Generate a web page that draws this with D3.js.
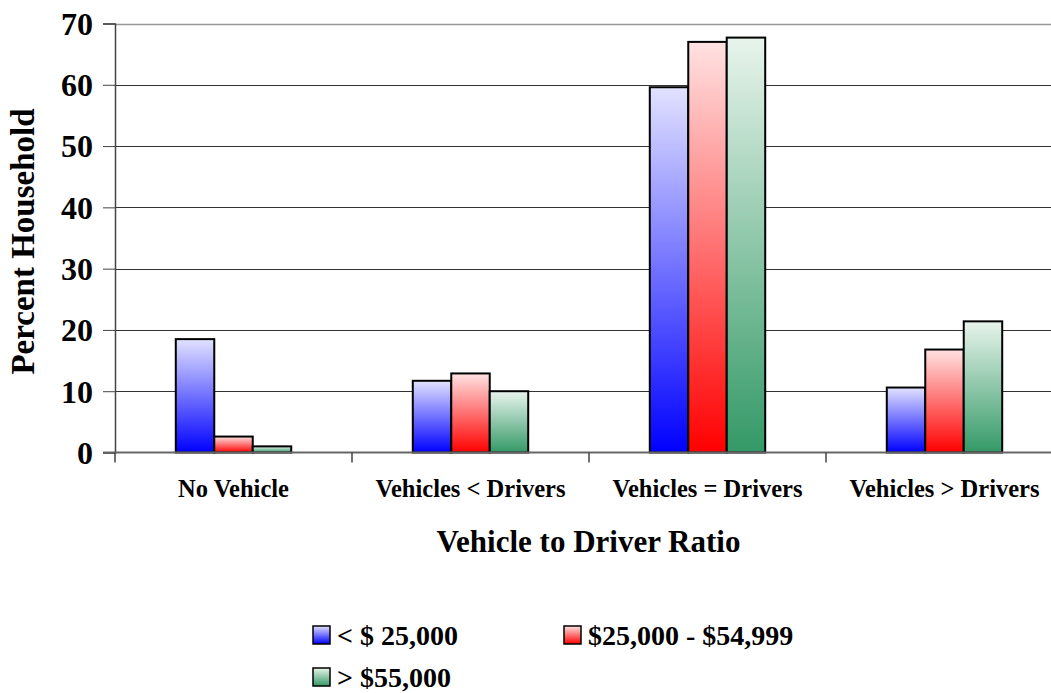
<!DOCTYPE html>
<html>
<head>
<meta charset="utf-8">
<script src="https://cdn.jsdelivr.net/npm/d3@7"></script>
<style>
  body { margin: 0; background: #fff; }
  text { font-family: "Liberation Serif", "Times New Roman", serif; font-weight: bold; }
</style>
</head>
<body>
<div id="chart"></div>
<script>
const categories = ['No Vehicle', 'Vehicles < Drivers', 'Vehicles = Drivers', 'Vehicles > Drivers'];
const seriesNames = ['< $ 25,000', '$25,000 - $54,999', '> $55,000'];
const lowIncome = [18.5, 11.7, 59.6, 10.6];
const midIncome = [2.6, 12.9, 67.0, 16.8];
const highIncome = [1.0, 10.0, 67.7, 21.4];
const yTicks = [0, 10, 20, 30, 40, 50, 60, 70];

const series = [lowIncome, midIncome, highIncome];
const gradients = [
    ['#e2e2ff', '#0000ff'],
    ['#ffe2e2', '#ff0000'],
    ['#e8f4ec', '#339966']
];

const width = 1051;
const height = 693;
const margin = { top: 23.5, left: 115, bottom: 240.5 };
const plotRight = 1063;

const svg = d3.select('#chart')
    .append('svg')
    .attr('width', width)
    .attr('height', height);

const defs = svg.append('defs');
gradients.forEach((g, i) => {
    const lg = defs.append('linearGradient')
        .attr('id', 'grad' + i)
        .attr('x1', 0).attr('y1', 0).attr('x2', 0).attr('y2', 1);
    lg.append('stop').attr('offset', '0%').attr('stop-color', g[0]);
    lg.append('stop').attr('offset', '100%').attr('stop-color', g[1]);
});

const x = d3.scaleBand()
    .domain(categories)
    .range([margin.left, plotRight]);

const xInner = d3.scaleBand()
    .domain(d3.range(series.length))
    .range([0, x.bandwidth()])
    .paddingOuter(1.58)
    .paddingInner(0);

const y = d3.scaleLinear()
    .domain([0, 70])
    .range([height - margin.bottom, margin.top]);

// gridlines
svg.append('g')
    .selectAll('line')
    .data(yTicks.filter(d => d > 0))
    .enter()
    .append('line')
    .attr('x1', margin.left)
    .attr('x2', plotRight)
    .attr('y1', d => Math.round(y(d)) + 0.5)
    .attr('y2', d => Math.round(y(d)) + 0.5)
    .attr('stroke', d => d === 70 ? '#999' : '#333')
    .attr('stroke-width', d => d === 70 ? 1.5 : 1);

// y axis
const yAxis = d3.axisLeft(y)
    .tickValues(yTicks)
    .tickSize(12)
    .tickPadding(10);

const yG = svg.append('g')
    .attr('transform', `translate(${margin.left},0)`)
    .call(yAxis);
yG.select('.domain').attr('stroke', '#444').attr('stroke-width', 1.5);
yG.selectAll('.tick line').attr('stroke', '#444');
yG.selectAll('.tick text')
    .attr('font-size', 32)
    .attr('font-family', '"Liberation Serif", serif')
    .attr('fill', '#000')
    .attr('dy', '0.34em');

// bars
categories.forEach((cat, ci) => {
    series.forEach((values, si) => {
        svg.append('rect')
            .attr('x', x(cat) + xInner(si))
            .attr('y', y(values[ci]))
            .attr('width', xInner.bandwidth())
            .attr('height', y(0) - y(values[ci]))
            .attr('fill', `url(#grad${si})`)
            .attr('stroke', '#000')
            .attr('stroke-width', 2);
    });
});

// x axis
const xG = svg.append('g')
    .attr('transform', `translate(0,${y(0)})`);
xG.append('line')
    .attr('x1', margin.left - 12)
    .attr('x2', plotRight)
    .attr('stroke', '#666')
    .attr('stroke-width', 2);
xG.selectAll('.xtick')
    .data(categories.concat(['end']))
    .enter()
    .append('line')
    .attr('x1', (d, i) => margin.left + i * x.bandwidth())
    .attr('x2', (d, i) => margin.left + i * x.bandwidth())
    .attr('y1', 0)
    .attr('y2', 10)
    .attr('stroke', '#444')
    .attr('stroke-width', 1.5);
xG.selectAll('.xlabel')
    .data(categories)
    .enter()
    .append('text')
    .attr('x', d => x(d) + x.bandwidth() / 2)
    .attr('y', 44.5)
    .attr('text-anchor', 'middle')
    .attr('font-size', 24.5)
    .text(d => d);

// axis titles
svg.append('text')
    .attr('x', 588.5)
    .attr('y', 552)
    .attr('text-anchor', 'middle')
    .attr('font-size', 31)
    .text('Vehicle to Driver Ratio');

svg.append('text')
    .attr('transform', 'translate(33.5, 241.5) rotate(-90)')
    .attr('text-anchor', 'middle')
    .attr('font-size', 33)
    .text('Percent Household');

// legend
const legendPos = [[313, 645], [564, 645], [313, 687]];
seriesNames.forEach((name, i) => {
    const g = svg.append('g')
        .attr('transform', `translate(${legendPos[i][0]},${legendPos[i][1]})`);
    g.append('rect')
        .attr('x', 0)
        .attr('y', -19)
        .attr('width', 17)
        .attr('height', 18)
        .attr('fill', `url(#grad${i})`)
        .attr('stroke', '#000')
        .attr('stroke-width', 1.5);
    g.append('text')
        .attr('x', 24)
        .attr('y', 0)
        .attr('font-size', 28)
        .text(name);
});
</script>
</body>
</html>
